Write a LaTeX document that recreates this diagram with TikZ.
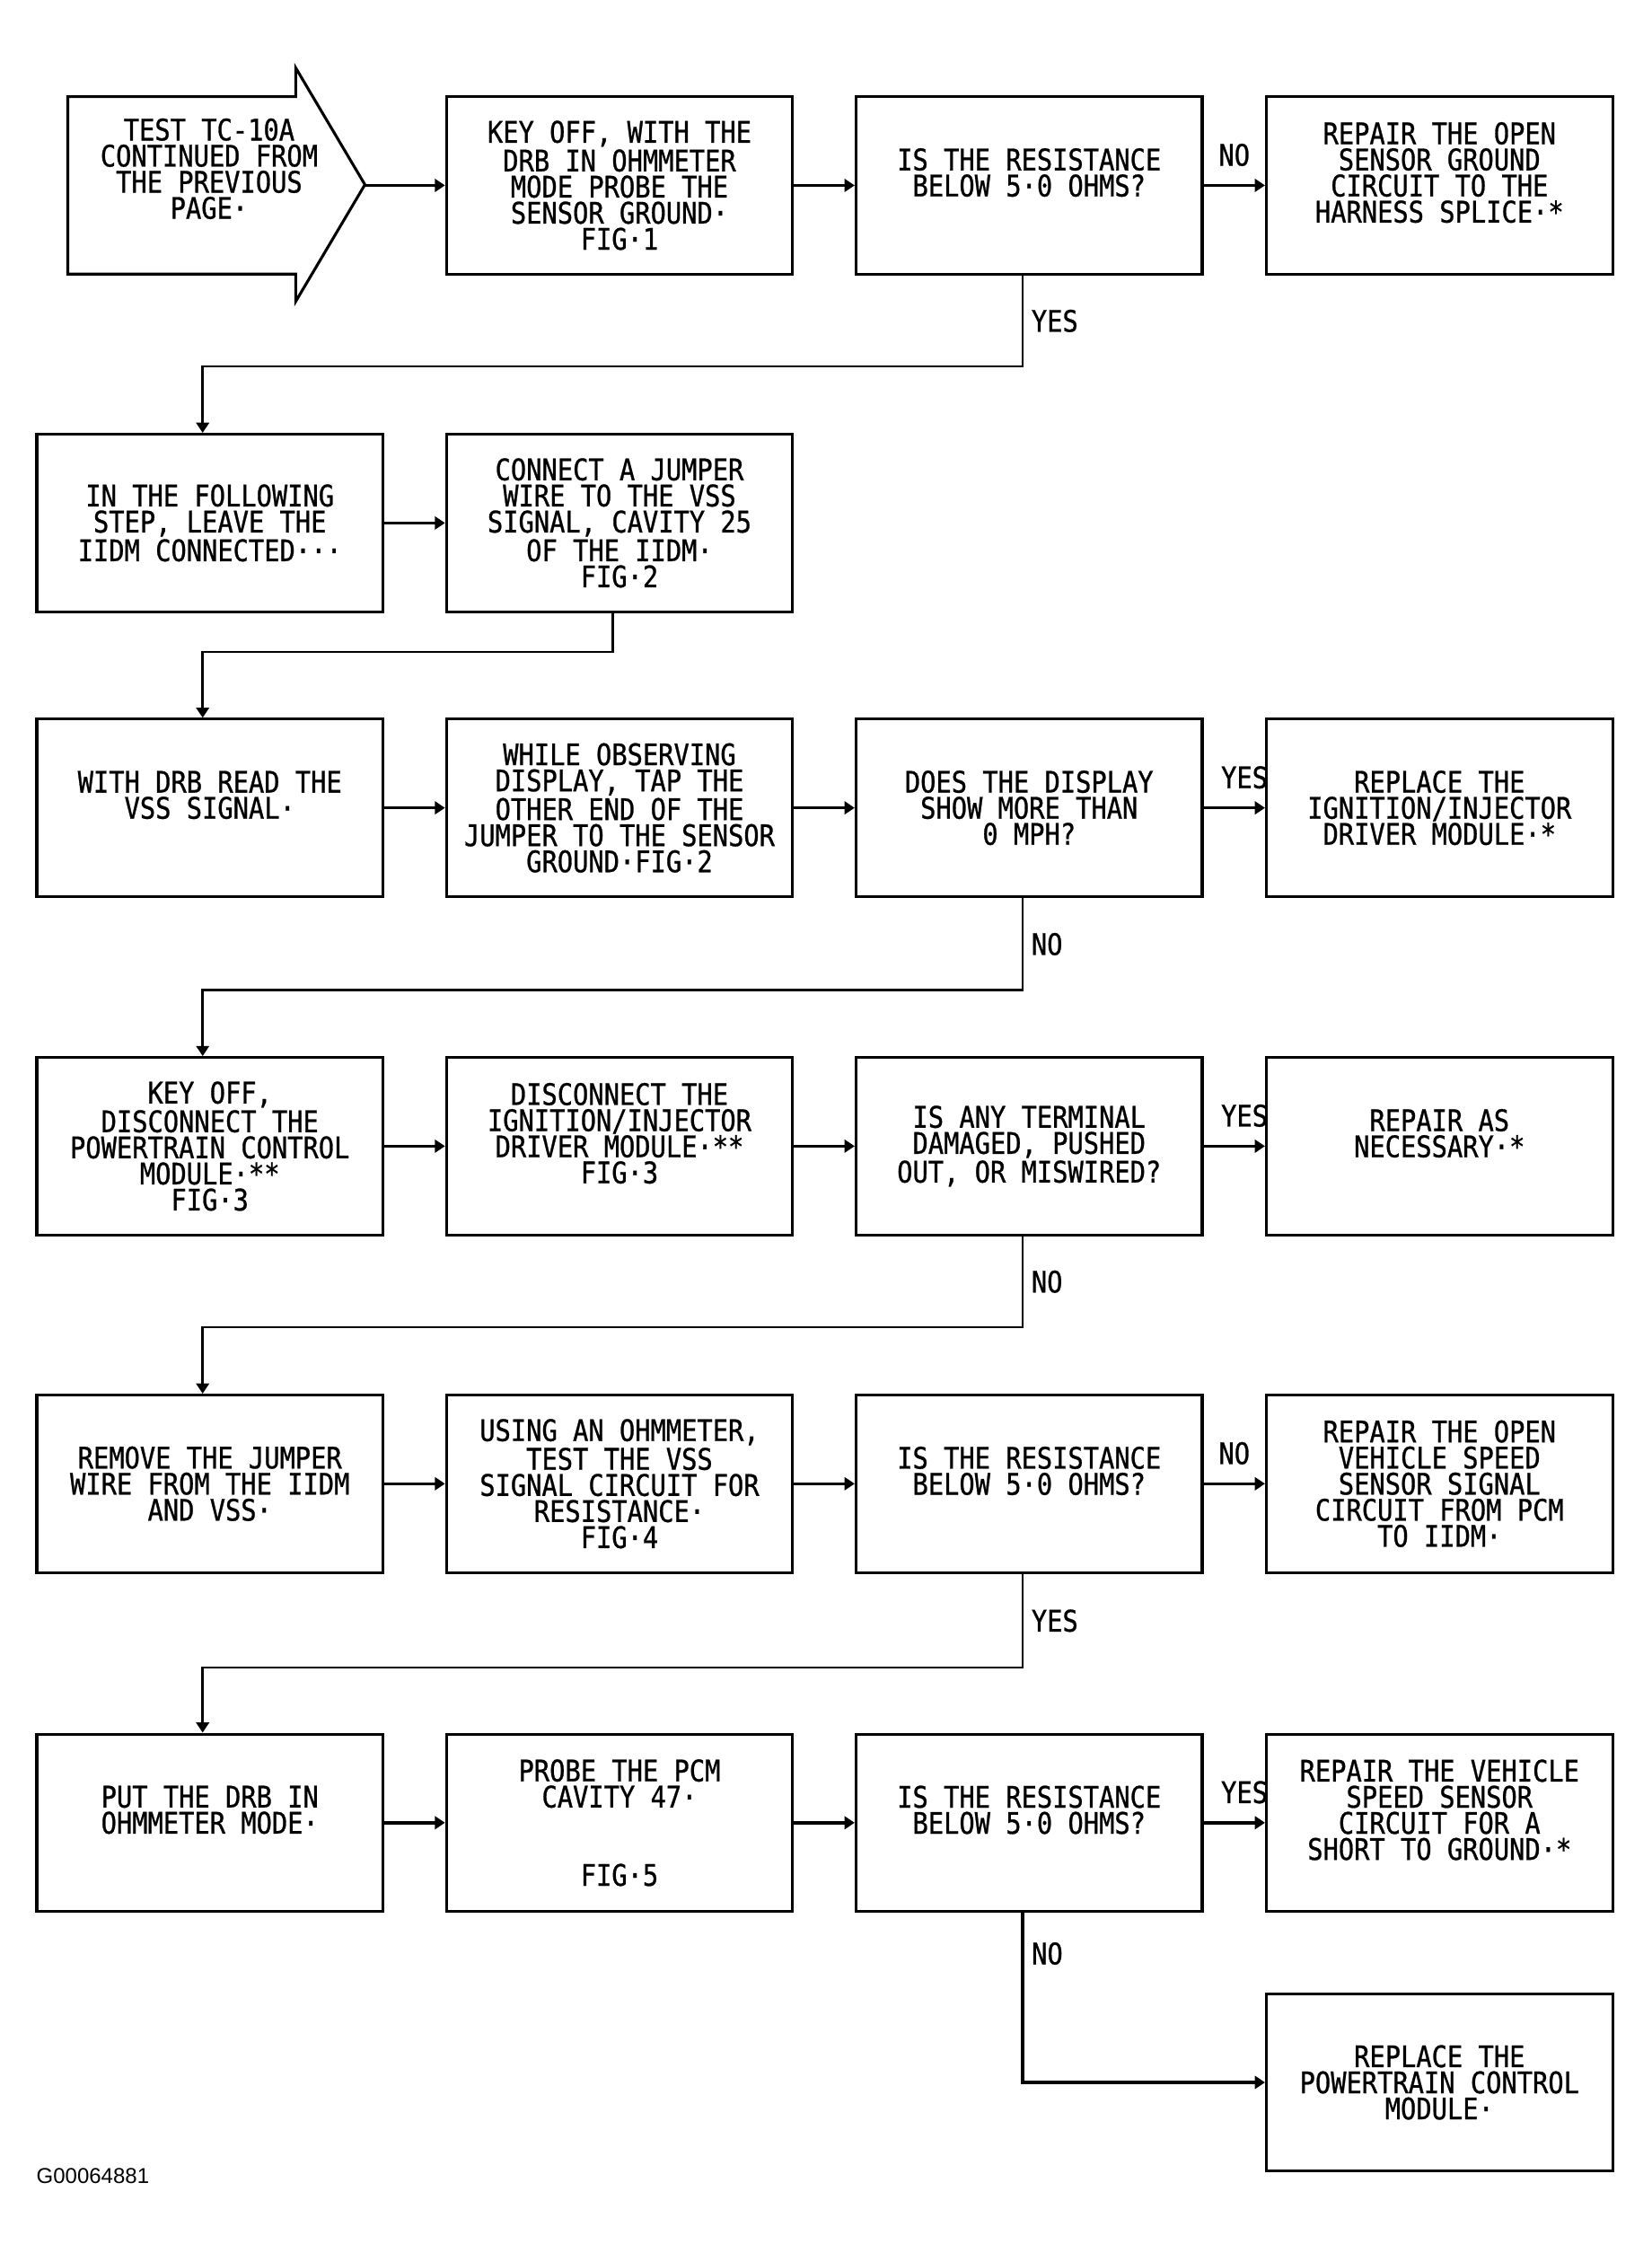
\documentclass[tikz,border=0pt]{standalone}
\usepackage{fontspec}
\newfontfamily\chartfont[FakeStretch=0.87, FakeBold=0.8]{DejaVu Sans Mono}
\newfontfamily\codefont{Liberation Sans}
\usetikzlibrary{calc, arrows.meta}

\tikzset{
  stepbox/.style={draw, line width=1.1pt, minimum width=4.8cm, minimum height=2.46cm,
                  align=center, inner sep=0pt, font=\chartfont\fontsize{11.7}{10.3}\selectfont},
  arr/.style={line width=1.2pt, -{Triangle[length=4pt,width=5pt]}},
  flow/.style={line width=1pt, -{Triangle[length=4pt,width=5pt]}},
  answer/.style={inner sep=0pt, font=\chartfont\fontsize{11.7}{10.3}\selectfont}
}

\begin{document}
\begin{tikzpicture}[x=0.02cm, y=-0.02cm]

\path[use as bounding box] (0,0) rectangle (1145.1,1568);

% start arrow
\draw [line width=1.1pt, line join=miter] (47,67) -- (205,67) -- (205,47) -- (253,128)
      -- (205,209) -- (205,190) -- (47,190) -- cycle;
\coordinate (start) at (253,128.5);
\node [answer, align=center] (starttext) at (145,117)
      {TEST TC-10A\\CONTINUED FROM\\THE PREVIOUS\\PAGE·};

% row 1
\node [stepbox] (b1) at (429.5,128.5) {KEY OFF, WITH THE\\DRB IN OHMMETER\\MODE PROBE THE\\SENSOR GROUND·\\FIG·1};
\node [stepbox] (q1) at (713.5,128.5) {IS THE RESISTANCE\\BELOW 5·0 OHMS?\\~};
\node [stepbox] (r1) at (998,128.5) {REPAIR THE OPEN\\SENSOR GROUND\\CIRCUIT TO THE\\HARNESS SPLICE·*\\~};

% row 2
\node [stepbox] (l2) at (145.5,362.5) {IN THE FOLLOWING\\STEP, LEAVE THE\\IIDM CONNECTED···};
\node [stepbox] (m2) at (429.5,362.5) {CONNECT A JUMPER\\WIRE TO THE VSS\\SIGNAL, CAVITY 25\\OF THE IIDM·\\FIG·2};

% row 3
\node [stepbox] (l3) at (145.5,560) {WITH DRB READ THE\\VSS SIGNAL·\\~};
\node [stepbox] (m3) at (429.5,560) {WHILE OBSERVING\\DISPLAY, TAP THE\\OTHER END OF THE\\JUMPER TO THE SENSOR\\GROUND·FIG·2};
\node [stepbox] (q3) at (713.5,560) {DOES THE DISPLAY\\SHOW MORE THAN\\0 MPH?};
\node [stepbox] (r3) at (998,560) {REPLACE THE\\IGNITION/INJECTOR\\DRIVER MODULE·*};

% row 4
\node [stepbox] (l4) at (145.5,794.5) {KEY OFF,\\DISCONNECT THE\\POWERTRAIN CONTROL\\MODULE·**\\FIG·3};
\node [stepbox] (m4) at (429.5,794.5) {DISCONNECT THE\\IGNITION/INJECTOR\\DRIVER MODULE·**\\FIG·3\\~};
\node [stepbox] (q4) at (713.5,794.5) {IS ANY TERMINAL\\DAMAGED, PUSHED\\OUT, OR MISWIRED?};
\node [stepbox] (r4) at (998,794.5) {REPAIR AS\\NECESSARY·*\\~};

% row 5
\node [stepbox] (l5) at (145.5,1028.5) {REMOVE THE JUMPER\\WIRE FROM THE IIDM\\AND VSS·};
\node [stepbox] (m5) at (429.5,1028.5) {USING AN OHMMETER,\\TEST THE VSS\\SIGNAL CIRCUIT FOR\\RESISTANCE·\\FIG·4};
\node [stepbox] (q5) at (713.5,1028.5) {IS THE RESISTANCE\\BELOW 5·0 OHMS?\\~};
\node [stepbox] (r5) at (998,1028.5) {REPAIR THE OPEN\\VEHICLE SPEED\\SENSOR SIGNAL\\CIRCUIT FROM PCM\\TO IIDM·};

% row 6
\node [stepbox] (l6) at (145.5,1263.5) {PUT THE DRB IN\\OHMMETER MODE·\\~};
\node [stepbox] (m6) at (429.5,1263.5) {PROBE THE PCM\\CAVITY 47·\\~\\~\\FIG·5};
\node [stepbox] (q6) at (713.5,1263.5) {IS THE RESISTANCE\\BELOW 5·0 OHMS?\\~};
\node [stepbox] (r6) at (998,1263.5) {REPAIR THE VEHICLE\\SPEED SENSOR\\CIRCUIT FOR A\\SHORT TO GROUND·*\\~};
\node [stepbox] (r7) at (998,1443.5) {REPLACE THE\\POWERTRAIN CONTROL\\MODULE·};

% connectors
\draw [arr] (start) -- (b1.west);
\draw [arr] (b1) -- (q1);
\draw [arr] (q1) -- node [answer, above=7pt] {NO} (r1);
\draw [flow] ([xshift=-0.09cm]q1.south) -- node [answer, right=3pt] {YES} ++(0,63)
      -| ([xshift=-0.1cm]l2.north);

\draw [arr] (l2) -- (m2);
\draw [flow] ([xshift=-0.09cm]m2.south) -- ++(0,27) -| ([xshift=-0.1cm]l3.north);

\draw [arr] (l3) -- (m3);
\draw [arr] (m3) -- (q3);
\draw [arr] (q3) -- node [answer, above=7pt, xshift=4pt] {YES} (r3);
\draw [flow] ([xshift=-0.09cm]q3.south) -- node [answer, right=3pt] {NO} ++(0,64)
      -| ([xshift=-0.1cm]l4.north);

\draw [arr] (l4) -- (m4);
\draw [arr] (m4) -- (q4);
\draw [arr] (q4) -- node [answer, above=7pt, xshift=4pt] {YES} (r4);
\draw [flow] ([xshift=-0.09cm]q4.south) -- node [answer, right=3pt] {NO} ++(0,63)
      -| ([xshift=-0.1cm]l5.north);

\draw [arr] (l5) -- (m5);
\draw [arr] (m5) -- (q5);
\draw [arr] (q5) -- node [answer, above=7pt] {NO} (r5);
\draw [flow] ([xshift=-0.09cm]q5.south) -- node [answer, right=3pt] {YES} ++(0,65)
      -| ([xshift=-0.1cm]l6.north);

\draw [arr] (l6) -- (m6);
\draw [arr] (m6) -- (q6);
\draw [arr] (q6) -- node [answer, above=7pt, xshift=4pt] {YES} (r6);
\draw [arr] ([xshift=-0.09cm]q6.south) |- node [answer, right=3pt, pos=0.12] {NO} (r7.west);

\node [anchor=west, inner sep=0pt, font=\codefont\fontsize{8.5}{10}\selectfont] (code) at (25,1508.5) {G00064881};

\end{tikzpicture}
\end{document}
